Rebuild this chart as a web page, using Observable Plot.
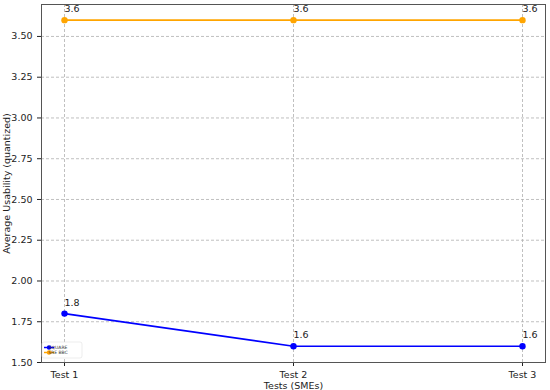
<!DOCTYPE html>
<html><head><meta charset="utf-8">
<script src="https://cdn.jsdelivr.net/npm/d3@7"></script>
<script src="https://cdn.jsdelivr.net/npm/@observablehq/plot@0.6"></script>
<style>body{margin:0;background:#fff;font-family:"DejaVu Sans",sans-serif}</style>
</head><body><div id="chart"></div>
<script>
const tests = ["Test 1", "Test 2", "Test 3"];
const seriesNames = ["SQUARE", "SRE BBC"];
const squareValues = [1.8, 1.6, 1.6];
const sreValues = [3.6, 3.6, 3.6];
const seriesColors = ["#0000ff", "#ffa500"];
const yTicks = [1.5, 1.75, 2.0, 2.25, 2.5, 2.75, 3.0, 3.25, 3.5];

const data = [];
[squareValues, sreValues].forEach((vals, i) => {
  vals.forEach((v, j) => data.push({test: tests[j], value: v, series: seriesNames[i]}));
});

const chart = Plot.plot({
  width: 550, height: 390,
  marginLeft: 41, marginRight: 5, marginTop: 4, marginBottom: 28,
  style: {fontFamily: "DejaVu Sans, sans-serif", fontSize: "9.5px", color: "#222"},
  x: {type: "point", domain: tests, padding: 0.1, label: "Tests (SMEs)", labelAnchor: "center", labelArrow: "none", labelOffset: 26, tickSize: 4},
  y: {domain: [1.5, 3.696], ticks: yTicks, tickFormat: d => d.toFixed(2), label: "Average Usability (quantized)", labelAnchor: "center", labelArrow: "none", labelOffset: 38, tickSize: 4},
  color: {domain: seriesNames, range: seriesColors},
  marks: [
    Plot.gridX(tests, {x: d => d, stroke: "#b0b0b0", strokeOpacity: 1, strokeDasharray: "3,2", strokeWidth: 0.8}),
    Plot.gridY(yTicks, {y: d => d, stroke: "#b0b0b0", strokeOpacity: 1, strokeDasharray: "3,2", strokeWidth: 0.8}),
    Plot.line(data, {x: "test", y: "value", stroke: "series", z: "series", strokeWidth: 1.6}),
    Plot.dot(data, {x: "test", y: "value", fill: "series", r: 3.2}),
    Plot.text(data, {x: "test", y: "value", text: d => d.value.toFixed(1), textAnchor: "start", dx: 0, dy: -11, fontSize: 9.5, fill: "#222"}),
    Plot.frame({stroke: "#555", strokeWidth: 1})
  ]
});
document.getElementById("chart").append(chart);

// legend inside lower-left of plot area
const svg = d3.select(chart);
const g = svg.append("g").attr("transform", "translate(42,342)");
g.append("rect").attr("width", 40).attr("height", 16).attr("rx", 2).attr("fill", "white").attr("stroke", "#e0e0e0").attr("stroke-width", 0.6);
seriesNames.forEach((name, i) => {
  const y = 5.5 + i * 5;
  g.append("line").attr("x1", 2).attr("x2", 12).attr("y1", y).attr("y2", y).attr("stroke", seriesColors[i]).attr("stroke-width", 1.5);
  g.append("circle").attr("cx", 7).attr("cy", y).attr("r", 2.2).attr("fill", seriesColors[i]);
  g.append("text").attr("x", 16).attr("y", y).attr("dy", "0.35em").attr("font-size", 4.5).attr("fill", "#333").text(name);
});
</script></body></html>
